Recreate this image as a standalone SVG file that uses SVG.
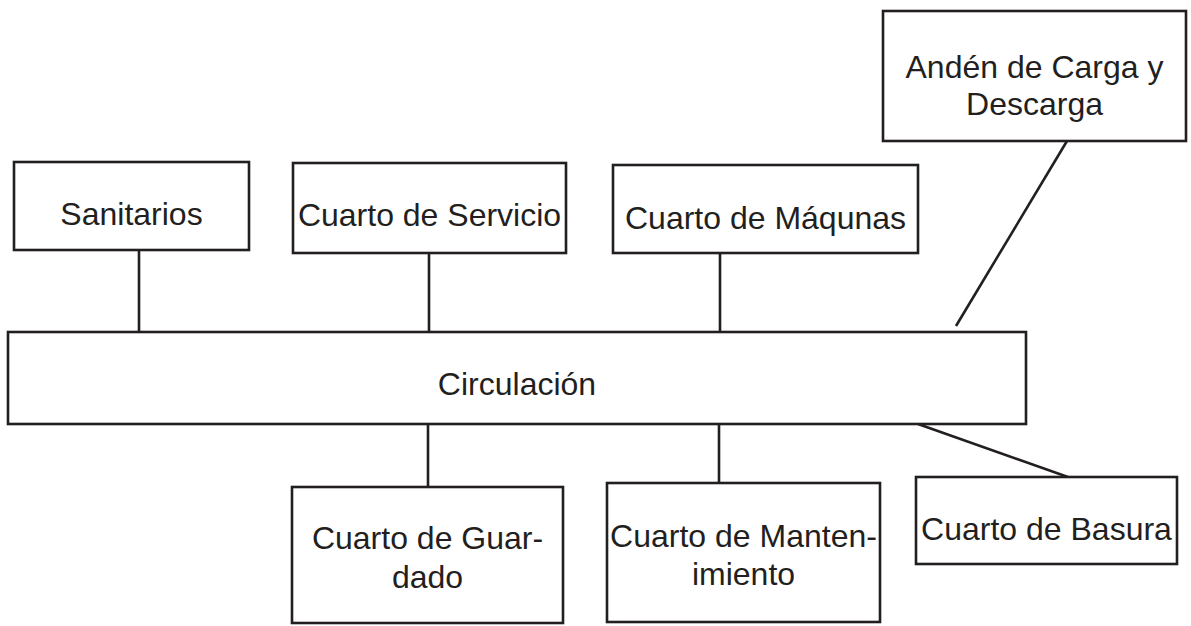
<svg xmlns="http://www.w3.org/2000/svg" width="1191" height="626" viewBox="0 0 1191 626">
  <style>
    .box { fill: #ffffff; stroke: #231f20; stroke-width: 2.6; }
    .link { stroke: #231f20; stroke-width: 2.6; fill: none; }
    .label { font-family: "Liberation Sans", Arial, sans-serif; font-size: 32px; fill: #231f20; text-anchor: middle; }
  </style>
  <rect width="1191" height="626" fill="#ffffff"/>

  <!-- connectors between the rooms and the circulation spine -->
  <g id="connectors">
    <line class="link" x1="139" y1="250" x2="139" y2="332"/>
    <line class="link" x1="429" y1="253" x2="429" y2="332"/>
    <line class="link" x1="720" y1="253" x2="720" y2="332"/>
    <line class="link" x1="1067" y1="141" x2="956" y2="326"/>
    <line class="link" x1="428" y1="424" x2="428" y2="487"/>
    <line class="link" x1="719" y1="424" x2="719" y2="483"/>
    <line class="link" x1="918" y1="424" x2="1068" y2="477"/>
  </g>

  <g id="sanitarios">
    <rect class="box" x="14" y="162" width="235" height="88"/>
    <text class="label" x="131.5" y="225">Sanitarios</text>
  </g>

  <g id="cuarto-servicio">
    <rect class="box" x="293" y="163" width="273" height="90"/>
    <text class="label" x="429.5" y="226">Cuarto de Servicio</text>
  </g>

  <g id="cuarto-maquinas">
    <rect class="box" x="613" y="165" width="305" height="88"/>
    <text class="label" x="765.5" y="229">Cuarto de Máqunas</text>
  </g>

  <g id="anden-carga">
    <rect class="box" x="883" y="11" width="303" height="130"/>
    <text class="label" x="1034.5" y="78">Andén de Carga y</text>
    <text class="label" x="1034.5" y="115">Descarga</text>
  </g>

  <g id="circulacion">
    <rect class="box" x="8" y="332" width="1018" height="92"/>
    <text class="label" x="517" y="395">Circulación</text>
  </g>

  <g id="cuarto-guardado">
    <rect class="box" x="292" y="487" width="271" height="136"/>
    <text class="label" x="427.5" y="549">Cuarto de Guar-</text>
    <text class="label" x="427.5" y="588">dado</text>
  </g>

  <g id="cuarto-mantenimiento">
    <rect class="box" x="607" y="483" width="273" height="139"/>
    <text class="label" x="743.5" y="547">Cuarto de Manten-</text>
    <text class="label" x="743.5" y="585">imiento</text>
  </g>

  <g id="cuarto-basura">
    <rect class="box" x="916" y="477" width="261" height="87"/>
    <text class="label" x="1046.5" y="540">Cuarto de Basura</text>
  </g>
</svg>
